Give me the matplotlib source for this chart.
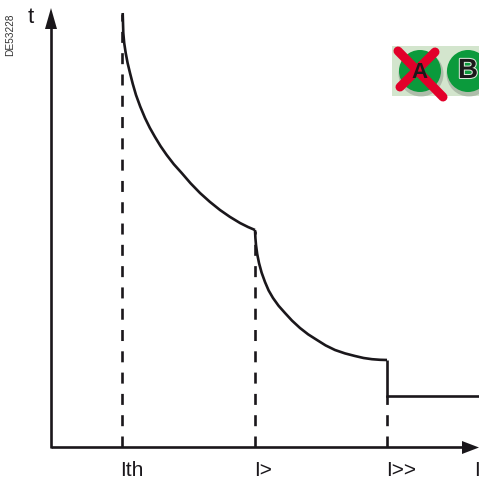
#!/usr/bin/env python3
# -*- coding: utf-8 -*-
import matplotlib
matplotlib.use('Agg')
import matplotlib.pyplot as plt
import matplotlib.patheffects as pe
from matplotlib.patches import Circle, Rectangle, Ellipse

plt.rcParams['font.family'] = ['Liberation Sans', 'DejaVu Sans']

# curve values, in picture pixels
curve1_x = [122.7, 123, 123.3, 124.2, 125.7, 127.6, 130, 132.8, 136, 140.2, 145, 149.8, 155,
            160.6, 166.7, 173.8, 181.7, 190.5, 200, 209.8, 220, 229.8, 240, 248, 255]
curve1_y = [13, 23, 33, 43, 53, 63, 73, 84, 95, 106.5, 118, 127.8, 137,
            146.2, 155, 164.2, 173, 183.2, 193, 201.8, 210, 216.8, 223, 227, 230]
curve2_x = [255, 255.4, 256, 257.2, 259, 261.6, 265, 268.6, 273, 278.6, 285, 292, 300,
            308.2, 317, 325.6, 335, 345, 355, 363.6, 372, 380, 387]
curve2_y = [230, 238, 245, 254, 263, 272.6, 282, 290.4, 298, 305.8, 313, 320.6, 328,
            334.4, 340, 345.4, 350, 353.4, 356, 358, 359.2, 359.8, 360]
step_x = [387, 387, 479]
step_y = [360, 395.5, 395.5]

# dashed drop lines
drop_x = [122, 255, 387]
drop_top = [14, 231, 395]
tick_labels = ['Ith', 'I>', 'I>>']
tick_label_x = [120, 254, 386]

ink = '#1a171b'
S = 479

fig = plt.figure(figsize=(S / 100, S / 100), dpi=100)
ax = fig.add_axes([0, 0, 1, 1])
ax.set_xlim(0, S)
ax.set_ylim(S, 0)
ax.axis('off')

# axes arrows
ax.plot([51, 51], [448, 28], color=ink, lw=1.9, solid_capstyle='butt')
ax.plot([51, 465], [447, 447], color=ink, lw=1.9, solid_capstyle='butt')
ax.fill([51, 45, 57], [8, 29, 29], color=ink, lw=0)
ax.fill([479, 462, 462], [447.5, 441, 454], color=ink, lw=0)

# drop lines, dashes counted from the axis up
for x, top in zip(drop_x, drop_top):
    ax.plot([x, x], [447, top], color=ink, lw=1.9, dashes=(4.17, 3.9))

# curve
ax.plot(curve1_x, curve1_y, color=ink, lw=1.9, solid_capstyle='butt')
ax.plot(curve2_x, curve2_y, color=ink, lw=1.9, solid_capstyle='butt')
ax.plot(step_x, step_y, color=ink, lw=1.9, solid_joinstyle='miter', solid_capstyle='butt')

# texts
ax.text(31, 23, 't', fontsize=16, color=ink, ha='center', va='baseline')
ax.text(10, 35, 'DE53228', fontsize=7.3, color='#333333', rotation=90, ha='center', va='center')
for x, lab in zip(tick_label_x, tick_labels):
    ax.text(x, 476, lab, fontsize=15, color=ink, ha='left', va='baseline')
ax.text(474.5, 476, 'I', fontsize=15, color=ink, ha='left', va='baseline')

# badge
ax.add_patch(Rectangle((392, 46), 87, 50, color='#d3e5cd', lw=0))
for cx, cy, r in [(420, 71, 21), (468, 71, 21)]:
    ax.add_patch(Ellipse((cx + 1, cy + 3), 2 * r + 3, 2 * r + 3, color='#8a9688', lw=0, alpha=0.5))
    ax.add_patch(Circle((cx, cy), r, color='#0b9a3c', lw=0))
ax.text(468, 71, 'B', fontsize=20, fontweight='bold', color='#1a1a1a', ha='center', va='center',
        path_effects=[pe.withStroke(linewidth=1.5, foreground='#d8e8d8')])
ax.text(420, 72, 'A', fontsize=16, fontweight='bold', color='#1a1a1a', ha='center', va='center')
ax.plot([398, 443], [51, 97], color='#e2002a', lw=6.5, solid_capstyle='round')
ax.plot([400, 435], [87, 52], color='#e2002a', lw=6.5, solid_capstyle='round')

plt.savefig('out.png', dpi=100)
